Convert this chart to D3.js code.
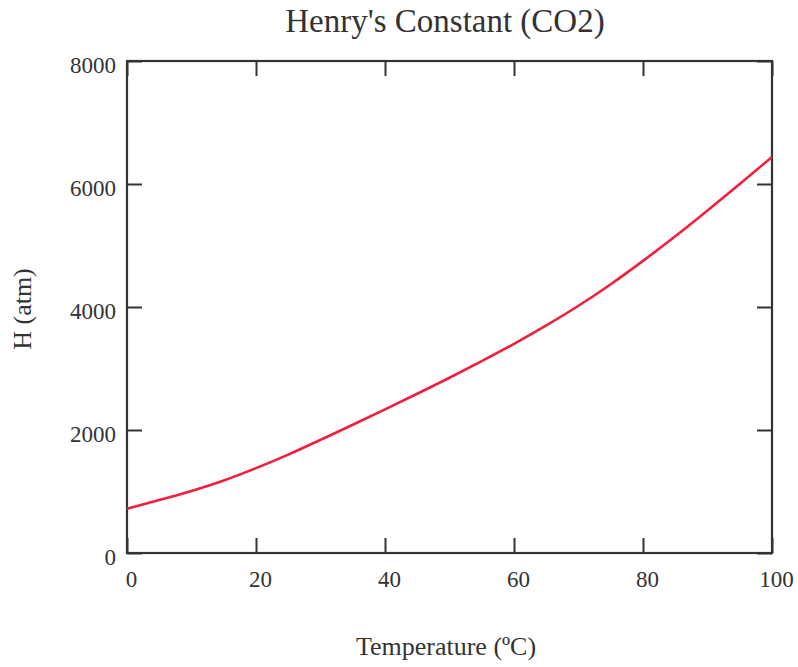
<!DOCTYPE html>
<html>
<head>
<meta charset="utf-8">
<script src="https://cdn.jsdelivr.net/npm/d3@7"></script>
<style>
  html, body { margin: 0; padding: 0; background: #fff; }
  svg { display: block; }
  text { font-family: "Liberation Serif", "DejaVu Serif", serif; fill: #333; }
</style>
</head>
<body>
<svg id="chart" width="798" height="667"></svg>
<script>
// Henry's constant of CO2 in water versus temperature
const temperatures = [0, 5, 10, 15, 20, 25, 30, 35, 40, 45, 50, 55, 60, 65, 70, 75, 80, 85, 90, 95, 100];
const henryAtm     = [720, 860, 1010, 1180, 1380, 1600, 1840, 2085, 2335, 2590, 2850, 3120, 3400, 3700, 4020, 4370, 4750, 5150, 5570, 6000, 6440];
const xTicks = [0, 20, 40, 60, 80, 100];
const yTicks = [0, 2000, 4000, 6000, 8000];

const chartTitle = "Henry's Constant (CO2)";
const xTitle = "Temperature (\u00BAC)";
const yTitle = "H (atm)";

const svg = d3.select("#chart");
const plotLeft = 127, plotRight = 772, plotTop = 61, plotBottom = 553;

const x = d3.scaleLinear().domain([0, 100]).range([plotLeft, plotRight]);
const y = d3.scaleLinear().domain([0, 8000]).range([plotBottom, plotTop]);

const frameColor = "#333";
const tickLen = 15;

// ticks on all four sides, pointing inward
function styleAxis(g) {
  g.select(".domain").remove();
  g.selectAll(".tick line").attr("stroke", frameColor).attr("stroke-width", 2);
}

svg.append("g").attr("transform", `translate(0,${plotBottom})`)
  .call(d3.axisBottom(x).tickValues(xTicks).tickSize(-tickLen).tickPadding(18).tickFormat(d3.format("d")))
  .call(styleAxis)
  .call(g => g.selectAll(".tick text").attr("font-size", 23).attr("fill", "#333").attr("dx", 4).attr("font-family", "Liberation Serif"));

svg.append("g").attr("transform", `translate(0,${plotTop})`)
  .call(d3.axisTop(x).tickValues(xTicks).tickSize(-tickLen).tickFormat(""))
  .call(styleAxis);

svg.append("g").attr("transform", `translate(${plotLeft},0)`)
  .call(d3.axisLeft(y).tickValues(yTicks).tickSize(-tickLen).tickPadding(11).tickFormat(d3.format("d")))
  .call(styleAxis)
  .call(g => g.selectAll(".tick text").attr("font-size", 23).attr("fill", "#333").attr("dy", "0.5em").attr("font-family", "Liberation Serif"));

svg.append("g").attr("transform", `translate(${plotRight},0)`)
  .call(d3.axisRight(y).tickValues(yTicks).tickSize(-tickLen).tickFormat(""))
  .call(styleAxis);

// plot frame
svg.append("rect")
  .attr("x", plotLeft).attr("y", plotTop)
  .attr("width", plotRight - plotLeft).attr("height", plotBottom - plotTop)
  .attr("fill", "none").attr("stroke", frameColor).attr("stroke-width", 2.2);

// curve
const pts = temperatures.map((t, i) => [t, henryAtm[i]]);
svg.append("path")
  .datum(pts)
  .attr("fill", "none")
  .attr("stroke", "#f0203c")
  .attr("stroke-width", 2.6)
  .attr("d", d3.line().x(d => x(d[0])).y(d => y(d[1])).curve(d3.curveNatural));

// titles
svg.append("text").attr("x", 445).attr("y", 32)
  .attr("text-anchor", "middle").attr("font-size", 33).text(chartTitle);

svg.append("text").attr("x", 446).attr("y", 655)
  .attr("text-anchor", "middle").attr("font-size", 26).text(xTitle);

svg.append("text")
  .attr("transform", "translate(31,309) rotate(-90)")
  .attr("text-anchor", "middle").attr("font-size", 26).text(yTitle);
</script>
</body>
</html>
